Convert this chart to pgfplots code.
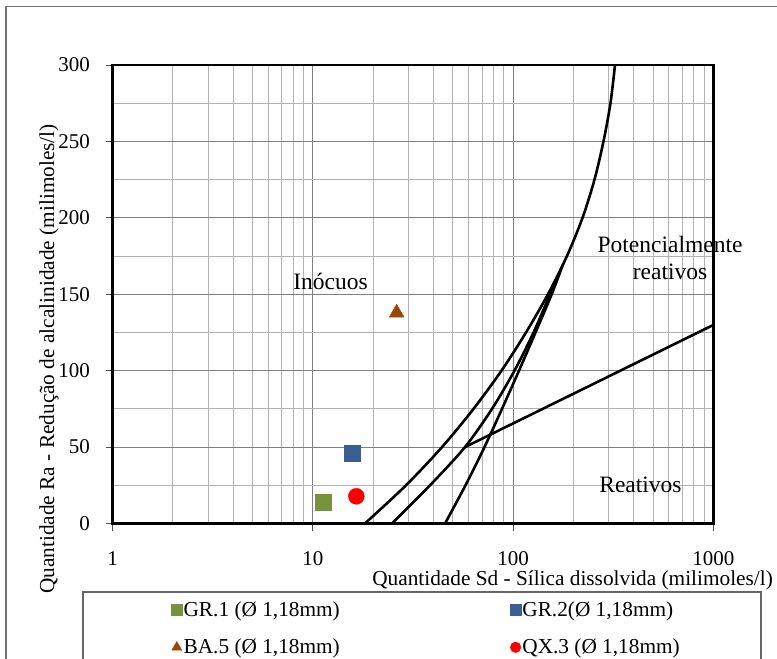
\documentclass[border=0pt]{standalone}
\usepackage{fontspec}
\setmainfont{Liberation Serif}
\usepackage{pgfplots}
\pgfplotsset{compat=1.18}
\definecolor{cgreen}{HTML}{77933C}
\definecolor{cblue}{HTML}{3A5F91}
\definecolor{cbrown}{HTML}{984807}
\definecolor{cred}{HTML}{FF0000}
\pgfplotsset{legmark/.style={legend image code/.code={\draw[##1, mark size=#1] plot coordinates {(0pt,0pt)};}}}
\begin{document}
\begin{tikzpicture}
\useasboundingbox (-112.7pt,-135.5pt) rectangle (664.3pt,523.5pt);
\begin{axis}[
  scale only axis, width=600.6pt, height=458.5pt,
  xmode=log, xmin=1, xmax=1000, ymin=0, ymax=300,
  clip mode=individual,
  xtick={1,10,100,1000}, xticklabels={1,10,100,1000},
  ytick={0,50,...,300}, minor ytick={25,75,...,275},
  grid=both,
  major grid style={line width=1pt, black!50},
  minor grid style={line width=1pt, black!30},
  axis line style={line width=2.7pt, black},
  tick align=outside, xtick pos=bottom, ytick pos=left,
  major tick length=7pt, minor tick length=0pt,
  tick style={line width=1pt, black!70},
  /pgf/number format/assume math mode=true,
  ticklabel style={font=\fontsize{21}{25}\selectfont},
  xticklabel style={anchor=base, inner sep=0pt, yshift=-34.5pt},
  yticklabel style={anchor=east, inner sep=0pt, xshift=-15.7pt},
  xlabel={Quantidade Sd - Sílica dissolvida (milimoles/l)},
  ylabel={Quantidade Ra - Redução de alcalinidade (milimoles/l)},
  label style={font=\fontsize{21.3}{25}\selectfont},
  xlabel style={at={(axis description cs:1.0994,-0.124)}, anchor=east, inner sep=0pt},
  ylabel style={at={(axis description cs:-0.106,0.3588)}, anchor=center, inner sep=0pt},
  legend columns=2,
  legend cell align=left,
  legend style={draw=none, fill=none, at={(axis description cs:0.0976,-0.229)}, anchor=west,
    font=\fontsize{21.3}{25}\selectfont, inner sep=0pt, row sep=18.3pt,
    nodes={inner sep=1.5pt},
    /tikz/every even column/.append style={column sep=169pt}},
]
% boundary curves
\addplot[forget plot, black, line width=2.6pt, smooth] coordinates {
 (18.20,0) (29.17,25) (44.15,50) (63.42,75) (87.5,100) (116.0,125) (149.3,150)
 (185.8,175) (222.2,200) (255.0,225) (282.8,250) (306.5,275) (322.8,300)};
\addplot[forget plot, black, line width=2.6pt, smooth] coordinates {
 (24.8,0) (38.46,25) (57.5,50) (78.45,75) (101.6,100) (126.5,125) (152.9,150) (164.8,160)};
\addplot[forget plot, black, line width=2.6pt, smooth] coordinates {
 (45.7,0) (57.85,25) (71.96,50) (88.0,75) (107.0,100) (129.4,125) (155.9,150) (178,170)};
\addplot[forget plot, black, line width=2.6pt] coordinates {(57.5,50) (1000,129.9)};
% samples
\addplot[only marks, mark=square*, mark size=8pt, color=cgreen, legmark=5.3pt]
  coordinates {(11.23,13.9)};
\addlegendentry{GR.1 (Ø 1,18mm)}
\addplot[only marks, mark=square*, mark size=8pt, color=cblue, legmark=5.3pt]
  coordinates {(15.68,46.1)};
\addlegendentry{GR.2(Ø 1,18mm)}
\addplot[only marks, mark=triangle*, mark size=8.7pt, color=cbrown, legmark=5.8pt]
  coordinates {(26.2,137.8)};
\addlegendentry{BA.5 (Ø 1,18mm)}
\addplot[only marks, mark=*, mark size=8pt, color=cred, legmark=5.3pt]
  coordinates {(16.48,17.8)};
\addlegendentry{QX.3 (Ø 1,18mm)}
% region labels
\node[anchor=base, font=\fontsize{23.5}{28}\selectfont, inner sep=0pt] at (axis cs:12.24,152.8) {Inócuos};
\node[anchor=base, font=\fontsize{23.5}{28}\selectfont, inner sep=0pt] at (axis cs:607.8,177.0) {Potencialmente};
\node[anchor=base, font=\fontsize{23.5}{28}\selectfont, inner sep=0pt] at (axis cs:607.8,159.4) {reativos};
\node[anchor=base, font=\fontsize{23.5}{28}\selectfont, inner sep=0pt] at (axis cs:432.9,19.96) {Reativos};
\end{axis}
% chart frame and legend box
\draw[black!55, line width=1.3pt] (-106.7pt,-140pt) -- (-106.7pt,516.8pt) -- (670pt,516.8pt);
\draw[black!60, line width=1.3pt] (-29.7pt,-140pt) -- (-29.7pt,-68.5pt) -- (648.3pt,-68.5pt) -- (648.3pt,-140pt);
\end{tikzpicture}
\end{document}
